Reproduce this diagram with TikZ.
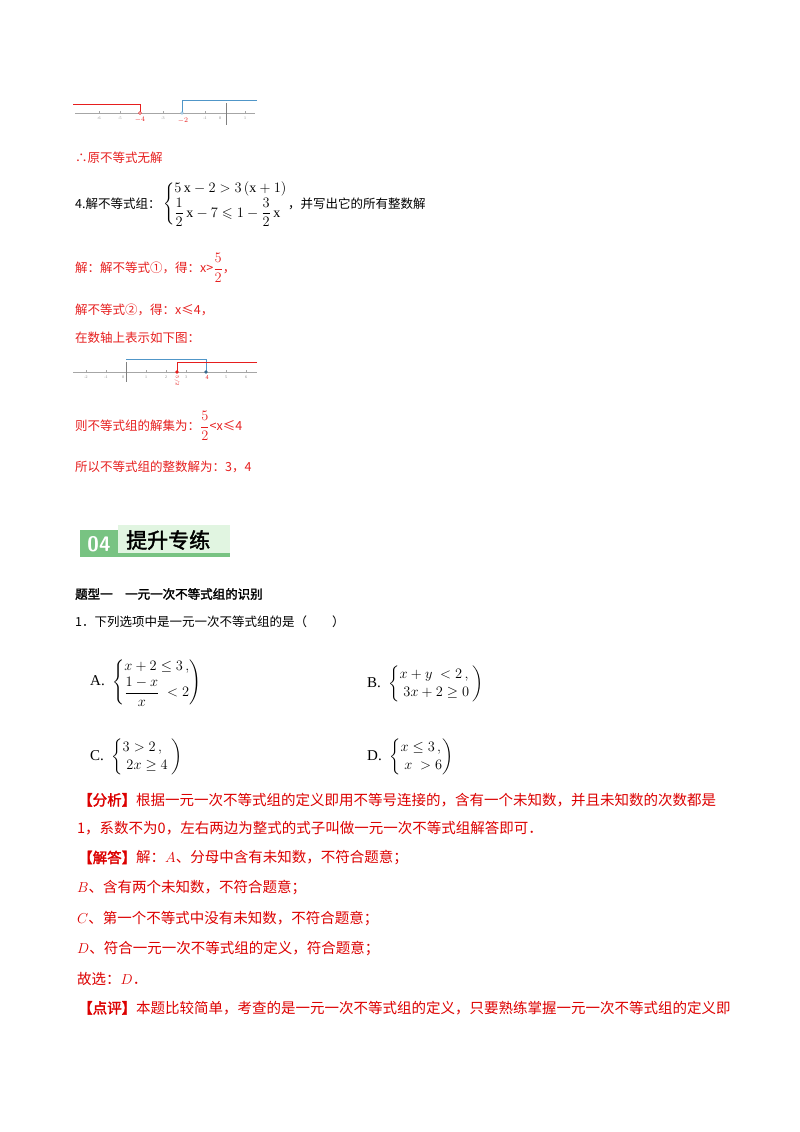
\documentclass[tikz,border=0pt]{standalone}
\usepackage{fontspec}
\usepackage{amsmath,amssymb}
\setmainfont{Liberation Serif}
\newfontfamily\cjk{Noto Sans CJK SC}
\newfontfamily\cjkb{Noto Sans CJK SC}[FakeBold=2]
\definecolor{myred}{RGB}{230,30,30}
\definecolor{dred}{RGB}{220,0,0}
\definecolor{myblue}{RGB}{80,150,200}
\definecolor{hgreen}{RGB}{120,195,130}
\definecolor{lgreen}{RGB}{225,245,225}
\begin{document}
\begin{tikzpicture}[x=1pt,y=-1pt,
  txt/.style={anchor=west,inner sep=0pt,font=\fontsize{12.5}{14}\cjk},
  rtxt/.style={txt,text=myred},
  atxt/.style={anchor=west,inner sep=0pt,font=\fontsize{14.5}{16}\cjk,text=dred},
  tk/.style={font=\fontsize{4}{4}\selectfont,text=gray,inner sep=0pt}]
\useasboundingbox (0,0) rectangle (800,1132);
% number line 1
\draw[gray!70,thin] (75,113) -- (255,113);
\foreach \v/\x in {-6/99,-5/120,-3/163,-1/205,1/245}{\draw[gray!70] (\x,113)--(\x,111); \node[tk] at (\x,118){\v};}
\node[tk] at (220,118){0};
\draw[gray] (226,103) -- (226,125);
\draw[myred,thick] (73,104) -- (140,104) -- (140,113);
\draw[myred,fill=white] (140,113) circle (1.5);
\node[font=\fontsize{7}{7}\selectfont,text=myred,inner sep=0pt] (m4) at (140,120) {$-4$};
\draw[myblue,thick] (257,100) -- (182,100) -- (182,113);
\draw[myblue,fill=white] (182,113) circle (1.3);
\node[font=\fontsize{7}{7}\selectfont,text=myred,inner sep=0pt] (m2) at (183,121) {$-2$};
% text block 1
\node[rtxt] (t1) at (75,158) {∴原不等式无解};
\node[txt] (t2) at (75,204) {4.解不等式组：};
\node[anchor=west,inner sep=0pt,font=\fontsize{14}{16}\selectfont] (sys) at (163,204)
 {$\left\{\begin{array}{@{}l@{}}5\,\mathrm{x}-2>3\,(\mathrm{x}+1)\\[1pt] \dfrac12\,\mathrm{x}-7\leqslant1-\dfrac32\,\mathrm{x}\end{array}\right.$};
\node[txt] (t3) at (288,204) {，并写出它的所有整数解};
\node[rtxt] (t4) at (75,268) {解：解不等式①，得：x>{\fontsize{14}{16}\selectfont$\dfrac52$}，};
\node[rtxt] (t5) at (75,310) {解不等式②，得：x≤4，};
\node[rtxt] (t6) at (75,338) {在数轴上表示如下图：};
% number line 2
\draw[gray!70,thin] (73,372) -- (257,372);
\foreach \v/\x in {-2/86,-1/106,1/146,2/166,3/186,5/226,6/246}{\draw[gray!70] (\x,372)--(\x,370); \node[tk] at (\x,377){\v};}
\node[tk] at (123,377){0};
\draw[gray] (126,362) -- (126,382);
\draw[myblue] (126,359) -- (206,359) -- (206,372);
\draw[myred,thick] (257,362) -- (177,362) -- (177,372);
\fill[myred] (177,372) circle (1.8);
\fill[myblue!70!black] (206,372) circle (1.8);
\node[font=\fontsize{4}{4}\selectfont,text=myred,inner sep=0pt,rotate=-90] (f52) at (177,381) {$5/2$};
\node[font=\fontsize{6}{6}\selectfont,text=myred,inner sep=0pt] (f4) at (207,378) {4};
\node[rtxt] (t7) at (75,426) {则不等式组的解集为：{\fontsize{14}{16}\selectfont$\dfrac52$}<x≤4};
\node[rtxt] (t8) at (75,467) {所以不等式组的整数解为：3，4};
% header
\fill[lgreen] (118,525) rectangle (230,555);
\fill[hgreen] (80,530) rectangle (118,557);
\fill[hgreen] (80,553) rectangle (230,557);
\node[font=\fontsize{21}{21}\sffamily\bfseries,text=white,inner sep=0pt] (h04) at (99,544) {04};
\node[anchor=west,inner sep=0pt,font=\fontsize{21}{22}\cjkb] (htitle) at (126,540) {提升专练};
% question
\node[anchor=west,inner sep=0pt,font=\fontsize{12.5}{14}\cjkb] (q0) at (75,594) {题型一\quad 一元一次不等式组的识别};
\node[txt] (q1) at (75,622) {1．下列选项中是一元一次不等式组的是（\qquad ）};
\tikzset{opt/.style={anchor=west,inner sep=0pt,font=\fontsize{15}{18}\selectfont}}
\node[opt] (oA) at (90,682) {A.\ \ $\left\{\begin{array}{@{}l@{}}x+2\le3\,,\\[2pt] \dfrac{1-x}{x}\ <2\end{array}\right)$};
\node[opt] (oB) at (367,684) {B.\ \ $\left\{\begin{array}{@{}l@{}}x+y\ <2\,,\\ \ 3x+2\ge0\ \end{array}\right)$};
\node[opt] (oC) at (90,757) {C.\ \ $\left\{\begin{array}{@{}l@{}}3>2\,,\\ \ 2x\ge4\ \end{array}\right)$};
\node[opt] (oD) at (367,757) {D.\ \ $\left\{\begin{array}{@{}l@{}}x\le3\,,\\ \ x\ >6\end{array}\right)$};
% analysis
\node[atxt] (a1) at (78,800) {{\cjkb【分析】}根据一元一次不等式组的定义即用不等号连接的，含有一个未知数，并且未知数的次数都是};
\node[atxt] (a2) at (77,828) {1，系数不为0，左右两边为整式的式子叫做一元一次不等式组解答即可．};
\node[atxt] (a3) at (78,858) {{\cjkb【解答】}解：$A$、分母中含有未知数，不符合题意；};
\node[atxt] (a4) at (77,888) {$B$、含有两个未知数，不符合题意；};
\node[atxt] (a5) at (77,919) {$C$、第一个不等式中没有未知数，不符合题意；};
\node[atxt] (a6) at (77,949) {$D$、符合一元一次不等式组的定义，符合题意；};
\node[atxt] (a7) at (77,979) {故选：$D$．};
\node[atxt] (a8) at (78,1008) {{\cjkb【点评】}本题比较简单，考查的是一元一次不等式组的定义，只要熟练掌握一元一次不等式组的定义即};
\end{tikzpicture}
\end{document}
